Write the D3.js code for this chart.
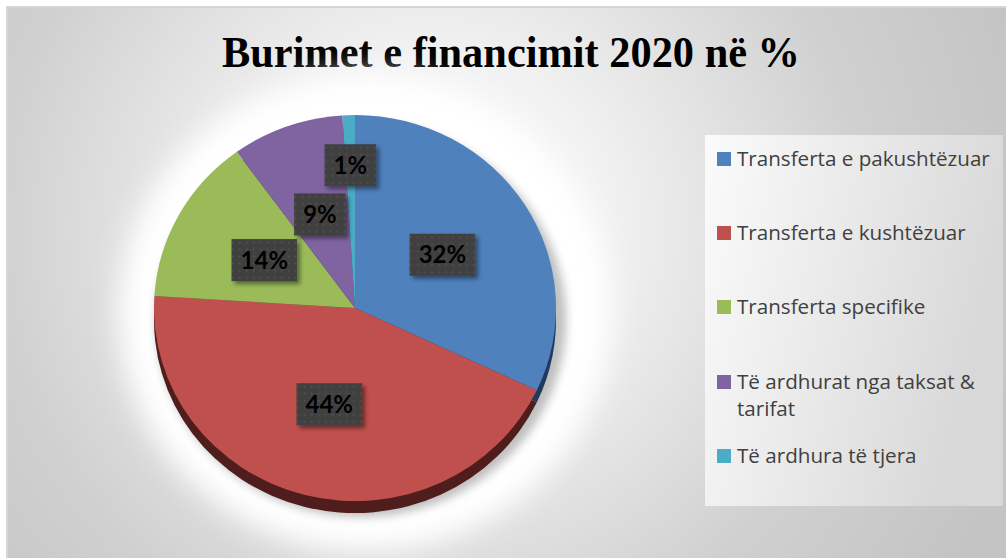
<!DOCTYPE html>
<html>
<head>
<meta charset="utf-8">
<script src="https://cdn.jsdelivr.net/npm/d3@7"></script>
<style>
html,body{margin:0;padding:0;background:#fff;}
svg{display:block;}
</style>
</head>
<body>
<svg id="chart" width="1006" height="558"></svg>
<script>
// ---- data ----
const categories = ["Transferta e pakushtëzuar","Transferta e kushtëzuar","Transferta specifike","Të ardhurat nga taksat & tarifat","Të ardhura të tjera"];
const values = [32, 44, 14, 9, 1];
const labels = ["32%","44%","14%","9%","1%"];
const colors = ["#4f81bd","#c0504d","#9bbb59","#8064a2","#4bacc6"];
const darkColors = ["#1f3a5c","#4f1d1c","#46562a","#3a2d4d","#225564"];
const title = "Burimet e financimit 2020 në %";

const W = 1006, H = 558;
const svg = d3.select("#chart");
const defs = svg.append("defs");

// background gradient
const bg = defs.append("radialGradient").attr("id","bgGrad")
  .attr("gradientUnits","userSpaceOnUse").attr("cx",430).attr("cy",230).attr("r",620);
bg.append("stop").attr("offset",0).attr("stop-color","#ffffff");
bg.append("stop").attr("offset",0.28).attr("stop-color","#f2f2f2");
bg.append("stop").attr("offset",0.7).attr("stop-color","#d0d0d0");
bg.append("stop").attr("offset",1).attr("stop-color","#c4c4c4");

const lg = defs.append("linearGradient").attr("id","legGrad").attr("x1",0).attr("x2",1).attr("y1",0).attr("y2",0.3);
lg.append("stop").attr("offset",0).attr("stop-color","#fbfbfb");
lg.append("stop").attr("offset",1).attr("stop-color","#d8d8d8");

defs.append("filter").attr("id","blurBig").attr("x","-50%").attr("y","-50%").attr("width","200%").attr("height","200%")
  .append("feGaussianBlur").attr("stdDeviation",14);
defs.append("filter").attr("id","blurSm").attr("x","-50%").attr("y","-50%").attr("width","200%").attr("height","200%")
  .append("feGaussianBlur").attr("stdDeviation",5);
const ds = defs.append("filter").attr("id","boxShadow").attr("x","-30%").attr("y","-30%").attr("width","170%").attr("height","170%");
ds.append("feDropShadow").attr("dx",3).attr("dy",3).attr("stdDeviation",2).attr("flood-color","#000").attr("flood-opacity",0.45);

const pat = defs.append("pattern").attr("id","dots").attr("patternUnits","userSpaceOnUse").attr("width",7).attr("height",7);
pat.append("rect").attr("width",7).attr("height",7).attr("fill","#3f3f3f");
pat.append("circle").attr("cx",3.5).attr("cy",3.5).attr("r",1).attr("fill","#555");

// chart area
svg.append("rect").attr("x",6).attr("y",6).attr("width",W-6).attr("height",H-6).attr("fill","#d6d6d6");
svg.append("rect").attr("x",8).attr("y",8).attr("width",W-8).attr("height",H-8).attr("fill","url(#bgGrad)");

// title
const titleEl = svg.append("text").attr("x",511).attr("y",67).attr("text-anchor","middle")
  .attr("font-family","'Liberation Serif','Times New Roman',serif").attr("font-weight","bold")
  .attr("font-size",44).attr("fill","#000").text(title);
const tw = titleEl.node().getComputedTextLength();
if (Math.abs(tw-578) > 4) titleEl.attr("textLength",578).attr("lengthAdjust","spacingAndGlyphs");

// pie
const cx = 355, cy = 308, rx = 201, ry = 193, depth = 12;
const pie = d3.pie().sort(null).value(d => d);
const arcs = pie(values);
const arc = d3.arc().innerRadius(0).outerRadius(ry);
const sx = rx/ry;

// halo and shadow
svg.append("ellipse").attr("cx",cx+10).attr("cy",cy+5).attr("rx",rx+45).attr("ry",ry+45)
  .attr("fill","#ffffff").attr("filter","url(#blurBig)");
svg.append("ellipse").attr("cx",cx+6).attr("cy",cy+depth).attr("rx",rx+4).attr("ry",ry+4)
  .attr("fill","#8a8a8a").attr("opacity",0.55).attr("filter","url(#blurSm)");

const gDepth = svg.append("g").attr("transform",`translate(${cx},${cy+depth}) scale(${sx},1)`);
gDepth.selectAll("path").data(arcs).join("path").attr("d",arc).attr("fill",(d,i)=>darkColors[i]);
const gFace = svg.append("g").attr("transform",`translate(${cx},${cy}) scale(${sx},1)`);
gFace.selectAll("path").data(arcs).join("path").attr("d",arc).attr("fill",(d,i)=>colors[i]);

// data labels
const labelArcNear = d3.arc().innerRadius(0).outerRadius(ry*1.03);
const labelArcFar = d3.arc().innerRadius(0).outerRadius(ry*1.48);
const gLab = svg.append("g");
arcs.forEach((d,i) => {
  const small = (d.endAngle - d.startAngle) < 0.1;
  const c = (small ? labelArcFar : labelArcNear).centroid(d);
  const x = cx + c[0]*sx, y = cy + c[1];
  const g = gLab.append("g").attr("transform",`translate(${x},${y})`);
  const rect = g.append("rect").attr("fill","url(#dots)").attr("filter","url(#boxShadow)");
  const t = g.append("text").attr("text-anchor","middle").attr("dy","0.36em")
    .attr("font-family","Lato,'Open Sans',sans-serif").attr("font-weight","bold")
    .attr("font-size",24).attr("fill","#000").text(labels[i]);
  const w = t.node().getComputedTextLength() + 18;
  rect.attr("x",-w/2).attr("y",-21).attr("width",w).attr("height",42);
});

// legend
svg.append("rect").attr("x",705).attr("y",135).attr("width",298).attr("height",371).attr("fill","url(#legGrad)");
const legY = [166,240,314,389,463];
const gLeg = svg.append("g");
// fit legend font so the first entry spans the same width as in the original
const probe = gLeg.append("text").attr("font-family","'Open Sans',sans-serif").attr("font-size",18).text(categories[0]);
const legFont = 18 * 253 / probe.node().getComputedTextLength();
probe.remove();
categories.forEach((name,i) => {
  gLeg.append("rect").attr("x",717).attr("y",legY[i]-14).attr("width",14).attr("height",14).attr("fill",colors[i]);
  const t = gLeg.append("text").attr("x",737).attr("y",legY[i])
    .attr("font-family","'Open Sans',sans-serif").attr("font-size",legFont).attr("fill","#404040");
  const words = name.split(" ");
  let line = [], tspan = t.append("tspan").attr("x",737).attr("dy",0);
  words.forEach(wd => {
    line.push(wd);
    tspan.text(line.join(" "));
    if (tspan.node().getComputedTextLength() > 258 && line.length > 1) {
      line.pop(); tspan.text(line.join(" "));
      line = [wd];
      tspan = t.append("tspan").attr("x",737).attr("dy",27).text(wd);
    }
  });
});
</script>
</body>
</html>
